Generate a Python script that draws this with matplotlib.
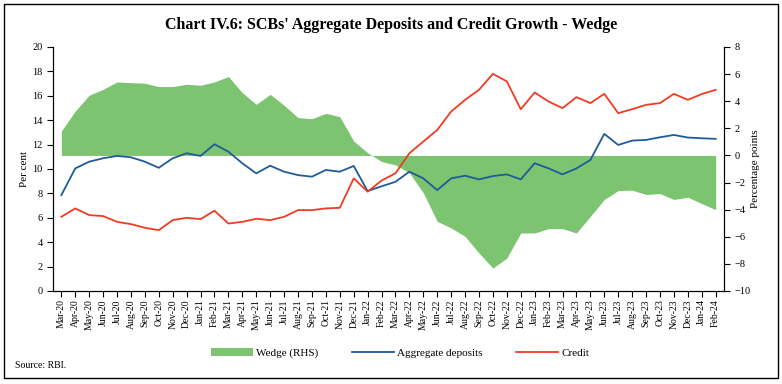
import matplotlib
matplotlib.use("Agg")
import matplotlib.pyplot as plt
from matplotlib.patches import Rectangle, Patch
from matplotlib.lines import Line2D
import numpy as np

months = ["Mar-20","Apr-20","May-20","Jun-20","Jul-20","Aug-20","Sep-20","Oct-20","Nov-20","Dec-20",
          "Jan-21","Feb-21","Mar-21","Apr-21","May-21","Jun-21","Jul-21","Aug-21","Sep-21","Oct-21",
          "Nov-21","Dec-21","Jan-22","Feb-22","Mar-22","Apr-22","May-22","Jun-22","Jul-22","Aug-22",
          "Sep-22","Oct-22","Nov-22","Dec-22","Jan-23","Feb-23","Mar-23","Apr-23","May-23","Jun-23",
          "Jul-23","Aug-23","Sep-23","Oct-23","Nov-23","Dec-23","Jan-24","Feb-24"]

deposits = [7.86, 10.05, 10.6, 10.88, 11.07, 10.96, 10.6, 10.1, 10.88, 11.29,
            11.07, 12.03, 11.42, 10.47, 9.64, 10.27, 9.78, 9.5, 9.37, 9.92,
            9.78, 10.25, 8.19, 8.58, 8.95, 9.78, 9.23, 8.27, 9.23, 9.45,
            9.15, 9.42, 9.56, 9.15, 10.47, 10.05, 9.56, 10.05, 10.74, 12.88,
            11.97, 12.33, 12.38, 12.6, 12.79, 12.58, 12.52, 12.47]

credit = [6.08, 6.77, 6.22, 6.14, 5.67, 5.48, 5.18, 4.99, 5.81, 6.0,
          5.89, 6.58, 5.53, 5.67, 5.92, 5.81, 6.08, 6.63, 6.63, 6.77,
          6.82, 9.23, 8.14, 9.05, 9.65, 11.29, 12.25, 13.2, 14.71, 15.67,
          16.49, 17.8, 17.18, 14.9, 16.27, 15.53, 14.99, 15.89, 15.4, 16.16,
          14.58, 14.9, 15.26, 15.4, 16.16, 15.67, 16.14, 16.49]

wedge = [1.8, 3.28, 4.44, 4.88, 5.42, 5.37, 5.33, 5.08, 5.08, 5.25,
         5.18, 5.42, 5.82, 4.63, 3.77, 4.51, 3.70, 2.79, 2.71, 3.11,
         2.86, 1.06, 0.2, -0.45, -0.7, -1.28, -2.76, -4.86, -5.35, -5.97,
         -7.2, -8.31, -7.57, -5.72, -5.72, -5.4, -5.4, -5.72, -4.49, -3.25,
         -2.59, -2.56, -2.88, -2.81, -3.25, -3.08, -3.55, -4.0]

GREEN = "#7dc470"
BLUE = "#1f5b99"
RED = "#f23b22"
plt.rcParams['font.family'] = ['Liberation Serif', 'DejaVu Serif']

fig = plt.figure(figsize=(7.82, 3.84), dpi=100)
fig.patches.append(Rectangle((4/782, 6/384), 774/782, 374/384, transform=fig.transFigure,
                             fill=False, edgecolor="black", linewidth=1.0))

ax = fig.add_axes([53/782, 1-291/384, (724-53)/782, (291-47)/384])
ax2 = ax.twinx()
ax.set_zorder(ax2.get_zorder() + 1)
ax.patch.set_visible(False)

x = np.arange(len(months))
ax2.fill_between(x, 0, wedge, color=GREEN, linewidth=0)
ax2.set_ylim(-10, 8)
ax2.set_yticks(range(-10, 9, 2))

ax.plot(x, deposits, color=BLUE, linewidth=1.3, solid_joinstyle='round')
ax.plot(x, credit, color=RED, linewidth=1.3, solid_joinstyle='round')
ax.set_ylim(0, 20)
ax.set_yticks(range(0, 21, 2))
ax.set_xlim(-0.6, len(months) - 0.4)
ax.set_xticks(x)
ax.set_xticklabels(months, rotation=90, fontsize=7)

for a in (ax, ax2):
    a.spines['top'].set_visible(False)
    for s in a.spines.values():
        s.set_linewidth(0.8)
    a.tick_params(axis='y', labelsize=7.5, length=4, width=0.8)
    a.tick_params(axis='x', length=4, width=0.8, pad=2)

ax.set_ylabel("Per cent", fontsize=8, labelpad=2)
ax2.set_ylabel("Percentage points", fontsize=8, labelpad=0)

fig.text(0.5, 1-25/384, "Chart IV.6: SCBs' Aggregate Deposits and Credit Growth - Wedge",
         ha='center', va='center', fontsize=11.5, fontweight='bold')

handles = [Patch(facecolor=GREEN, edgecolor='none'),
           Line2D([0], [0], color=BLUE, linewidth=1.3),
           Line2D([0], [0], color=RED, linewidth=1.3)]
labels = ["Wedge (RHS)", "Aggregate deposits", "Credit"]
fig.legend(handles, labels, loc='center', bbox_to_anchor=(400/782, 1-353/384), ncol=3,
           frameon=False, fontsize=8, handlelength=3.8, handleheight=0.8, columnspacing=3.0,
           handletextpad=0.3)

fig.text(15/782, 1-365/384, "Source: RBI.", ha='left', va='center', fontsize=7)

fig.savefig("out.png", dpi=100)
